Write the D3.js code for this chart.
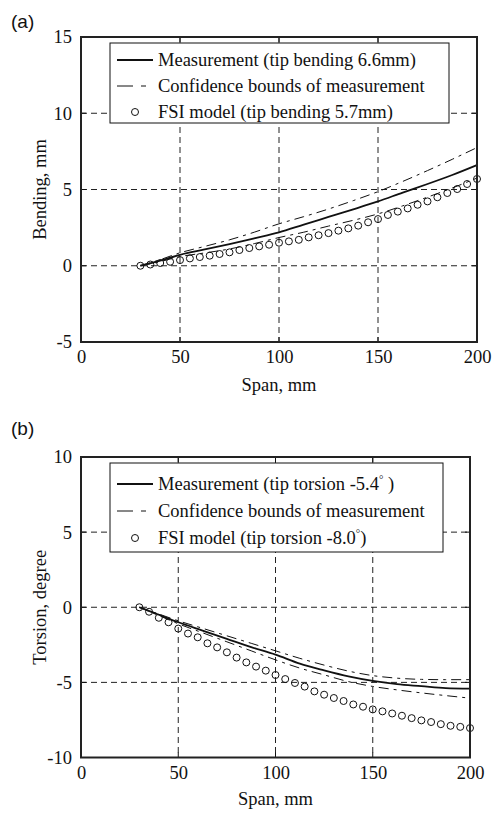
<!DOCTYPE html>
<html><head><meta charset="utf-8">
<script src="https://cdn.jsdelivr.net/npm/d3@7"></script>
<style>
html,body{margin:0;padding:0;background:#fff;}
svg text{font-family:"Liberation Serif","Times New Roman",serif;fill:#111;}
</style></head>
<body>
<svg id="c" width="492" height="815"></svg>
<script>
// ---------- data ----------
const spanFSI = [30,35,40,45,50,55,60,65,70,75,80,85,90,95,100,105,110,115,120,125,130,135,140,145,150,155,160,165,170,175,180,185,190,195,200];
const spanMeas = [30,40,50,62.5,75,87.5,100,112.5,125,137.5,150,162.5,175,187.5,200];

// (a) bending, mm
const bendMeas  = [0,0.33,0.72,1.07,1.42,1.8,2.19,2.7,3.2,3.7,4.22,4.8,5.36,5.95,6.6];
const bendUpper = [0,0.4,0.85,1.27,1.7,2.2,2.75,3.22,3.72,4.27,4.86,5.53,6.24,6.98,7.75];
const bendLower = [0,0.27,0.6,0.84,1.1,1.45,1.85,2.2,2.6,2.98,3.4,3.93,4.5,5.1,5.75];
const bendFSI   = [0,0.08,0.18,0.26,0.37,0.48,0.57,0.66,0.77,0.88,1.03,1.16,1.27,1.38,1.51,1.6,1.7,1.86,2.0,2.14,2.3,2.45,2.63,2.85,3.06,3.33,3.55,3.76,4.0,4.22,4.49,4.77,5.03,5.36,5.69];

// (b) torsion, degree
const torMeas  = [0,-0.5,-1.0,-1.55,-2.1,-2.65,-3.15,-3.75,-4.2,-4.6,-4.9,-5.12,-5.25,-5.38,-5.42];
const torUpper = [0,-0.45,-0.9,-1.4,-1.9,-2.4,-2.9,-3.4,-3.85,-4.25,-4.55,-4.72,-4.8,-4.82,-4.82];
const torLower = [0,-0.55,-1.1,-1.7,-2.3,-2.9,-3.5,-4.05,-4.5,-4.95,-5.27,-5.5,-5.7,-5.88,-6.05];
const torFSI   = [0,-0.3,-0.7,-1.0,-1.42,-1.75,-2.0,-2.4,-2.67,-3.0,-3.35,-3.67,-3.95,-4.22,-4.51,-4.78,-5.04,-5.28,-5.6,-5.82,-6.04,-6.24,-6.47,-6.62,-6.8,-6.93,-7.07,-7.22,-7.38,-7.53,-7.64,-7.78,-7.89,-7.96,-8.04];

const xTicks = [0,50,100,150,200];
const yTicksA = [-5,0,5,10,15];
const yTicksB = [-10,-5,0,5,10];

const legendA = ["Measurement (tip bending 6.6mm)","Confidence bounds of measurement","FSI model (tip bending 5.7mm)"];
const legendB = [["Measurement (tip torsion -5.4","°"," )"],["Confidence bounds of measurement"],["FSI model (tip torsion -8.0","°",")"]];

// ---------- drawing ----------
const svg = d3.select("#c");
const FS = 18.5;
const dashBound = "10,5,3,5";
const fmt = d => String(d);

function panel(cfg){
  const g = svg.append("g");
  const x = d3.scaleLinear().domain([0,200]).range([cfg.x0,cfg.x1]);
  const y = d3.scaleLinear().domain(cfg.ydom).range([cfg.y1,cfg.y0]);

  // grid
  g.selectAll(".gx").data(xTicks.slice(1,-1)).enter().append("line")
    .attr("x1",d=>x(d)).attr("x2",d=>x(d)).attr("y1",cfg.y0).attr("y2",cfg.y1)
    .attr("stroke","#222").attr("stroke-width",1).attr("stroke-dasharray","6,4");
  g.selectAll(".gy").data(cfg.yticks.slice(1,-1)).enter().append("line")
    .attr("y1",d=>y(d)).attr("y2",d=>y(d)).attr("x1",cfg.x0).attr("x2",cfg.x1)
    .attr("stroke","#222").attr("stroke-width",1).attr("stroke-dasharray","6,4");

  const line = d3.line().x(d=>x(d[0])).y(d=>y(d[1])).curve(d3.curveMonotoneX);
  const zip = (a,b)=>a.map((v,i)=>[v,b[i]]);
  g.append("path").attr("d",line(zip(spanMeas,cfg.upper))).attr("fill","none")
    .attr("stroke","#111").attr("stroke-width",1).attr("stroke-dasharray",dashBound);
  g.append("path").attr("d",line(zip(spanMeas,cfg.lower))).attr("fill","none")
    .attr("stroke","#111").attr("stroke-width",1).attr("stroke-dasharray",dashBound);
  g.append("path").attr("d",line(zip(spanMeas,cfg.meas))).attr("fill","none")
    .attr("stroke","#111").attr("stroke-width",1.8);
  g.selectAll(".fsi").data(zip(spanFSI,cfg.fsi)).enter().append("circle")
    .attr("cx",d=>x(d[0])).attr("cy",d=>y(d[1])).attr("r",3.5)
    .attr("fill","none").attr("stroke","#111").attr("stroke-width",1);

  // legend
  const L = cfg.legend;
  g.append("rect").attr("x",L.x).attr("y",L.y).attr("width",L.w).attr("height",L.h)
    .attr("fill","#fff").attr("stroke","#111").attr("stroke-width",1);
  L.rows.forEach((r,i)=>{
    const by = L.y + L.b0 + i*L.dy;
    const cy = by - 6;
    if(i===0) g.append("line").attr("x1",L.x+7).attr("x2",L.x+43).attr("y1",cy).attr("y2",cy)
      .attr("stroke","#111").attr("stroke-width",1.8);
    if(i===1) g.append("line").attr("x1",L.x+7).attr("x2",L.x+43).attr("y1",cy).attr("y2",cy)
      .attr("stroke","#111").attr("stroke-width",1).attr("stroke-dasharray","16,8,5,8");
    if(i===2) g.append("circle").attr("cx",L.x+25).attr("cy",cy).attr("r",3.5)
      .attr("fill","none").attr("stroke","#111").attr("stroke-width",1);
    const t = g.append("text").attr("x",L.x+48).attr("y",by).attr("font-size",FS);
    const parts = Array.isArray(r)?r:[r];
    t.append("tspan").text(parts[0]);
    if(parts.length>1){
      t.append("tspan").attr("font-size",11).attr("dy",-7).text(parts[1]);
      t.append("tspan").attr("dy",7).text(parts[2]);
    }
  });

  // axes
  const ax = g.append("g").attr("transform",`translate(0,${cfg.y1})`)
    .call(d3.axisBottom(x).tickValues(xTicks).tickSize(0).tickPadding(8).tickFormat(fmt));
  const ay = g.append("g").attr("transform",`translate(${cfg.x0},0)`)
    .call(d3.axisLeft(y).tickValues(cfg.yticks).tickSize(0).tickPadding(9).tickFormat(fmt));
  [ax,ay].forEach(a=>{a.select(".domain").remove();
    a.selectAll("text").attr("font-size",FS).attr("font-family","Liberation Serif").attr("fill","#111");});
  // inward ticks
  xTicks.slice(1,-1).forEach(v=>{
    g.append("line").attr("x1",x(v)).attr("x2",x(v)).attr("y1",cfg.y0).attr("y2",cfg.y0+5).attr("stroke","#111");
    g.append("line").attr("x1",x(v)).attr("x2",x(v)).attr("y1",cfg.y1).attr("y2",cfg.y1-5).attr("stroke","#111");
  });
  cfg.yticks.slice(1,-1).forEach(v=>{
    g.append("line").attr("y1",y(v)).attr("y2",y(v)).attr("x1",cfg.x0).attr("x2",cfg.x0+5).attr("stroke","#111");
    g.append("line").attr("y1",y(v)).attr("y2",y(v)).attr("x1",cfg.x1).attr("x2",cfg.x1-5).attr("stroke","#111");
  });
  g.append("rect").attr("x",cfg.x0).attr("y",cfg.y0).attr("width",cfg.x1-cfg.x0).attr("height",cfg.y1-cfg.y0)
    .attr("fill","none").attr("stroke","#222").attr("stroke-width",2);

  // labels
  g.append("text").attr("x",(cfg.x0+cfg.x1)/2).attr("y",cfg.xlabY).attr("text-anchor","middle")
    .attr("font-size",FS).text("Span, mm");
  g.append("text").attr("transform",`translate(${cfg.ylabX},${(cfg.y0+cfg.y1)/2}) rotate(-90)`)
    .attr("text-anchor","middle").attr("font-size",FS).text(cfg.ylabel);
  g.append("text").attr("x",11).attr("y",cfg.tagY).attr("font-size",19)
    .style("font-family","'Liberation Sans',Arial,sans-serif").text(cfg.tag);
}

panel({x0:81,x1:477,y0:37,y1:342,ydom:[-5,15],yticks:yTicksA,
  meas:bendMeas,upper:bendUpper,lower:bendLower,fsi:bendFSI,
  legend:{x:110,y:43,w:339,h:80,b0:23,dy:26,rows:legendA},
  xlabY:391,ylabX:46,ylabel:"Bending, mm",tag:"(a)",tagY:28});

panel({x0:81,x1:470,y0:457,y1:757.5,ydom:[-10,10],yticks:yTicksB,
  meas:torMeas,upper:torUpper,lower:torLower,fsi:torFSI,
  legend:{x:110,y:463,w:333,h:89,b0:27,dy:27,rows:legendB},
  xlabY:805,ylabX:46,ylabel:"Torsion, degree",tag:"(b)",tagY:435});
</script>
</body></html>
